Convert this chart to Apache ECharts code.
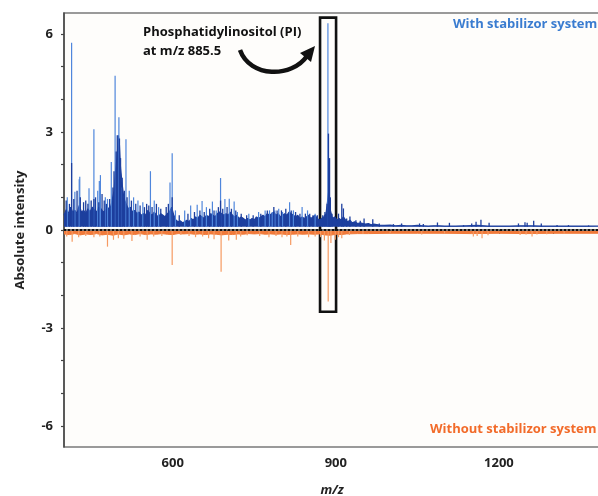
<!DOCTYPE html>
<html><head><meta charset="utf-8">
<script src="https://cdn.jsdelivr.net/npm/echarts@6/dist/echarts.min.js"></script>
<style>html,body{margin:0;padding:0;background:#fff}#c{width:598px;height:496px}</style>
</head><body><div id="c"></div>
<script>
// ---- axis ticks / labels ----
const xTicks = [400, 500, 600, 700, 800, 900, 1000, 1100, 1200, 1300];
const xLabels = [600, 900, 1200];
const yTicks = [-6, -5, -4, -3, -2, -1, 0, 1, 2, 3, 4, 5, 6];
const yLabels = [-6, -3, 0, 3, 6];

// ---- With stabilizor system (positive) ----
const blueEnvelope = [
  [400,0.45],[404,0.62],[408,0.5],[412,0.7],[416,0.55],[420,0.6],[424,0.5],[428,0.75],[432,0.55],[436,0.6],
  [440,0.5],[444,0.65],[448,0.55],[452,0.7],[456,0.6],[460,0.55],[464,0.7],[468,0.65],[472,0.55],[476,0.6],
  [480,0.7],[484,0.6],[488,0.85],[492,1.2],[495,1.8],[498,2.3],[500,2.9],[502,2.6],[504,1.9],[507,1.4],
  [510,1.0],[514,0.8],[518,0.65],[522,0.7],[526,0.55],[530,0.6],[534,0.5],[538,0.55],[542,0.45],[546,0.5],
  [550,0.45],[554,0.6],[558,0.5],[562,0.45],[566,0.55],[570,0.45],[574,0.4],[578,0.5],[582,0.45],[586,0.4],
  [590,0.5],[594,0.55],[598,0.7],[602,0.45],[606,0.3],[610,0.25],[614,0.28],[618,0.22],[622,0.25],[626,0.3],
  [630,0.25],[634,0.35],[638,0.3],[642,0.4],[646,0.35],[650,0.45],[654,0.4],[658,0.35],[662,0.45],[666,0.4],
  [670,0.5],[674,0.45],[678,0.4],[682,0.5],[686,0.55],[690,0.5],[694,0.45],[698,0.5],[702,0.45],[706,0.55],
  [710,0.45],[714,0.4],[718,0.45],[722,0.35],[726,0.4],[730,0.35],[734,0.3],[738,0.35],[742,0.3],[746,0.35],
  [750,0.3],[754,0.4],[758,0.35],[762,0.4],[766,0.45],[770,0.4],[774,0.5],[778,0.45],[782,0.5],[786,0.55],
  [790,0.45],[794,0.5],[798,0.4],[802,0.45],[806,0.5],[810,0.45],[814,0.55],[818,0.5],[822,0.45],[826,0.4],
  [830,0.45],[834,0.35],[838,0.4],[842,0.35],[846,0.4],[850,0.45],[854,0.35],[858,0.4],[862,0.45],[866,0.35],
  [870,0.3],[874,0.35],[878,0.4],[882,0.5],[885,0.9],[887,1.2],[890,0.6],[894,0.35],[898,0.4],[902,0.3],
  [906,0.35],[910,0.3],[914,0.4],[918,0.3],[922,0.25],[926,0.3],[930,0.22],[935,0.25],[940,0.2],[945,0.22],
  [950,0.2],[955,0.18],[960,0.2],[965,0.16],[970,0.18],[980,0.15],[990,0.14],[1000,0.15],[1010,0.13],[1020,0.14],
  [1030,0.13],[1040,0.13],[1050,0.14],[1060,0.13],[1070,0.12],[1080,0.13],[1090,0.13],[1100,0.12],[1120,0.12],
  [1140,0.13],[1160,0.14],[1180,0.12],[1200,0.12],[1220,0.12],[1240,0.13],[1260,0.13],[1280,0.12],[1300,0.12],
  [1320,0.12],[1340,0.12],[1360,0.12],[1386,0.12]
];
const bluePeaks = [
  [406,1.0],[414,5.73],[420,1.17],[428,1.55],[429,1.63],[446,1.28],[455,3.08],[462,1.2],[465,1.5],[467,1.68],
  [476,1.0],[480,0.95],[487,2.08],[494,4.72],[501,3.45],[505,1.3],[514,2.78],[520,1.2],[528,1.0],[536,0.9],
  [545,0.85],[559,1.8],[566,0.9],[574,0.7],[595,1.45],[599,2.35],[605,0.6],[622,0.6],[633,0.75],[645,0.77],
  [654,0.89],[662,0.7],[673,0.87],[680,0.6],[688,1.59],[696,0.95],[704,0.96],[713,0.87],[719,0.55],[740,0.5],
  [758,0.55],[770,0.6],[778,0.6],[783,0.55],[788,0.6],[795,0.65],[802,0.55],[815,0.85],[822,0.6],[838,0.7],
  [848,0.6],[862,0.5],[885.5,6.33]
];
const blueDense = [
  [404,0.9],[410,0.8],[414,2.05],[418,0.95],[424,1.2],[430,1.0],[436,0.85],[440,0.9],[444,0.8],[450,0.9],
  [455,0.95],[458,1.0],[464,0.85],[470,1.1],[474,0.9],[478,0.8],[484,0.95],[490,1.3],[492,1.8],[496,2.4],
  [498,2.9],[502,2.8],[504,2.2],[507,1.6],[511,1.2],[516,1.0],[524,0.9],[532,0.8],[540,0.75],[548,0.7],
  [552,0.8],[556,0.75],[562,0.7],[570,0.8],[578,0.65],[588,0.7],[592,0.8],[599,1.0],[612,0.45],[628,0.5],
  [640,0.55],[650,0.6],[658,0.55],[668,0.65],[676,0.6],[684,0.7],[688,0.9],[692,0.65],[700,0.7],[708,0.65],
  [716,0.6],[726,0.5],[736,0.45],[748,0.45],[762,0.5],[774,0.6],[786,0.7],[792,0.6],[800,0.6],[808,0.65],
  [818,0.6],[826,0.55],[834,0.5],[844,0.5],[852,0.5],[858,0.45],[866,0.45],[876,0.45],[880,0.55],[884,0.8],
  [886.5,2.95],[888.5,2.2],[890,1.0],[893,0.5],[905,0.5],[911,0.8],[914,0.66],[920,0.35],[926,0.41],[937,0.3],
  [945,0.28],[952,0.35],[968,0.33],[980,0.2],[1006,0.18],[1021,0.2],[1054,0.2],[1061,0.18],[1087,0.23],[1109,0.22],
  [1135,0.15],[1150,0.2],[1158,0.25],[1167,0.31],[1182,0.22],[1236,0.2],[1248,0.24],[1252,0.22],[1264,0.28],[1278,0.2],
  [1307,0.15],[1328,0.15],[1365,0.14]
];

// ---- Without stabilizor system (negative) ----
const orangeEnvelope = [
  [400,-0.12],[410,-0.14],[420,-0.11],[430,-0.15],[440,-0.12],[450,-0.14],[460,-0.11],[470,-0.15],[480,-0.13],[490,-0.16],
  [500,-0.12],[510,-0.15],[520,-0.12],[530,-0.14],[540,-0.11],[550,-0.14],[560,-0.12],[570,-0.13],[580,-0.11],[590,-0.13],
  [600,-0.14],[610,-0.11],[620,-0.12],[630,-0.11],[640,-0.13],[650,-0.12],[660,-0.14],[670,-0.12],[680,-0.13],[690,-0.15],
  [700,-0.13],[710,-0.14],[720,-0.12],[730,-0.13],[740,-0.11],[750,-0.12],[760,-0.11],[770,-0.13],[780,-0.12],[790,-0.13],
  [800,-0.12],[810,-0.14],[820,-0.13],[830,-0.12],[840,-0.13],[850,-0.12],[860,-0.13],[870,-0.12],[880,-0.15],[890,-0.16],
  [900,-0.13],[910,-0.14],[920,-0.12],[940,-0.11],[960,-0.11],[1000,-0.1],[1050,-0.1],[1100,-0.1],[1150,-0.11],[1200,-0.1],
  [1250,-0.11],[1300,-0.1],[1386,-0.1]
];
const orangePeaks = [
  [405,-0.2],[415,-0.36],[427,-0.22],[440,-0.18],[455,-0.22],[466,-0.2],[480,-0.51],[491,-0.3],[500,-0.25],[510,-0.27],
  [525,-0.34],[540,-0.2],[553,-0.3],[565,-0.2],[580,-0.18],[599,-1.07],[615,-0.15],[630,-0.18],[642,-0.22],[655,-0.2],
  [666,-0.25],[676,-0.28],[689,-1.28],[703,-0.32],[717,-0.3],[725,-0.2],[737,-0.16],[760,-0.18],[777,-0.22],[790,-0.18],
  [801,-0.22],[810,-0.2],[817,-0.46],[830,-0.2],[850,-0.22],[862,-0.2],[872,-0.22],[879,-0.32],[886,-2.19],[891,-0.4],
  [899,-0.3],[905,-0.22],[911,-0.25],[925,-0.15],[950,-0.12],[1000,-0.12],[1058,-0.14],[1100,-0.12],[1153,-0.2],[1160,-0.18],
  [1169,-0.25],[1180,-0.16],[1239,-0.15],[1250,-0.14],[1261,-0.2],[1270,-0.14],[1288,-0.13],[1320,-0.12]
];

// PI annotation box (m/z range, intensity range)
const piBox = [[871, 6.5], [900.5, -2.5]];

const FONT = "'Open Sans', 'Noto Sans', sans-serif";
const BLUE_DARK = '#1d3f9e';
const BLUE_LIGHT = '#4f86dc';
const ORANGE = '#f07a3a';
const ORANGE_LIGHT = '#f69a62';

function stick(base, color, width) {
  return function (params, api) {
    const x = api.value(0), h = api.value(1);
    const a = api.coord([x, base]);
    const b = api.coord([x, h]);
    return { type: 'line', shape: { x1: a[0], y1: a[1], x2: b[0], y2: b[1] },
             style: { stroke: color, lineWidth: width } };
  };
}

const chart = echarts.init(document.getElementById('c'));
chart.setOption({
  animation: false,
  backgroundColor: '#ffffff',
  grid: { left: 64, top: 13, right: -2, bottom: 49, show: true, outerBoundsMode: 'none', containLabel: false,
          backgroundColor: '#fefdfb', borderColor: '#7a7a7a', borderWidth: 1.5 },
  xAxis: {
    type: 'value', min: 400, max: 1386,
    name: 'm/z', nameLocation: 'middle', nameGap: 37,
    nameTextStyle: { fontFamily: FONT, fontSize: 13, fontWeight: 'bold', fontStyle: 'italic', color: '#222' },
    axisLine: { show: true, lineStyle: { color: '#444', width: 1.5 } },
    axisTick: { show: true, length: 4, customValues: xTicks, lineStyle: { color: '#444', width: 1.2 } },
    axisLabel: { customValues: xLabels, margin: 10, fontFamily: FONT, fontSize: 13, fontWeight: 'bold', color: '#222',
                 formatter: function (v) { return String(v); } },
    splitLine: { show: false }
  },
  yAxis: {
    type: 'value', min: -6.64, max: 6.64,
    name: 'Absolute intensity', nameLocation: 'middle', nameGap: 37,
    nameTextStyle: { fontFamily: FONT, fontSize: 13, fontWeight: 'bold', color: '#222' },
    axisLine: { show: true, lineStyle: { color: '#444', width: 1.5 } },
    axisTick: { show: true, length: 3, customValues: yTicks, lineStyle: { color: '#444', width: 1.2 } },
    axisLabel: { customValues: yLabels, margin: 11, fontFamily: FONT, fontSize: 13, fontWeight: 'bold', color: '#222' },
    splitLine: { show: false }
  },
  series: [
    { type: 'line', data: blueEnvelope, symbol: 'none', z: 2,
      lineStyle: { color: BLUE_DARK, width: 1.2 },
      areaStyle: { color: BLUE_DARK, opacity: 1, origin: 0.1 } },
    { type: 'custom', data: bluePeaks, renderItem: stick(0.1, BLUE_LIGHT, 1.2), z: 3 },
    { type: 'custom', data: blueDense, renderItem: stick(0.1, BLUE_DARK, 1.3), z: 4 },
    { type: 'line', data: orangeEnvelope, symbol: 'none', z: 2,
      lineStyle: { color: ORANGE, width: 1 },
      areaStyle: { color: ORANGE, opacity: 1, origin: -0.03 } },
    { type: 'custom', data: orangePeaks, renderItem: stick(-0.03, ORANGE_LIGHT, 1.2), z: 3,
      markLine: { silent: true, symbol: 'none', label: { show: false },
        lineStyle: { color: '#111', width: 2, type: [2, 2] },
        data: [{ yAxis: 0 }] },
      markArea: { silent: true,
        itemStyle: { color: 'rgba(0,0,0,0)', borderColor: '#111', borderWidth: 2.6 },
        data: [[{ coord: piBox[0] }, { coord: piBox[1] }]] } }
  ],
  graphic: [
    { type: 'text', left: 143, top: 23, z: 100,
      style: { text: 'Phosphatidylinositol (PI)\nat m/z 885.5', font: "bold 13px " + FONT,
               fill: '#111', lineHeight: 19 } },
    { type: 'text', left: 453, top: 18, z: 100,
      style: { text: 'With stabilizor system', font: "bold 13px " + FONT, fill: '#3a7cd0' } },
    { type: 'text', left: 430, top: 423, z: 100,
      style: { text: 'Without stabilizor system', font: "bold 13px " + FONT, fill: '#f26b2a' } },
    { type: 'bezierCurve', z: 100,
      shape: { x1: 240, y1: 50, cpx1: 250, cpy1: 78, cpx2: 292, cpy2: 78, x2: 307, y2: 56 },
      style: { stroke: '#111', lineWidth: 4.5, fill: null } },
    { type: 'polygon', z: 100,
      shape: { points: [[315, 46], [300, 53], [311, 62]] },
      style: { fill: '#111' } }
  ]
});
</script></body></html>
